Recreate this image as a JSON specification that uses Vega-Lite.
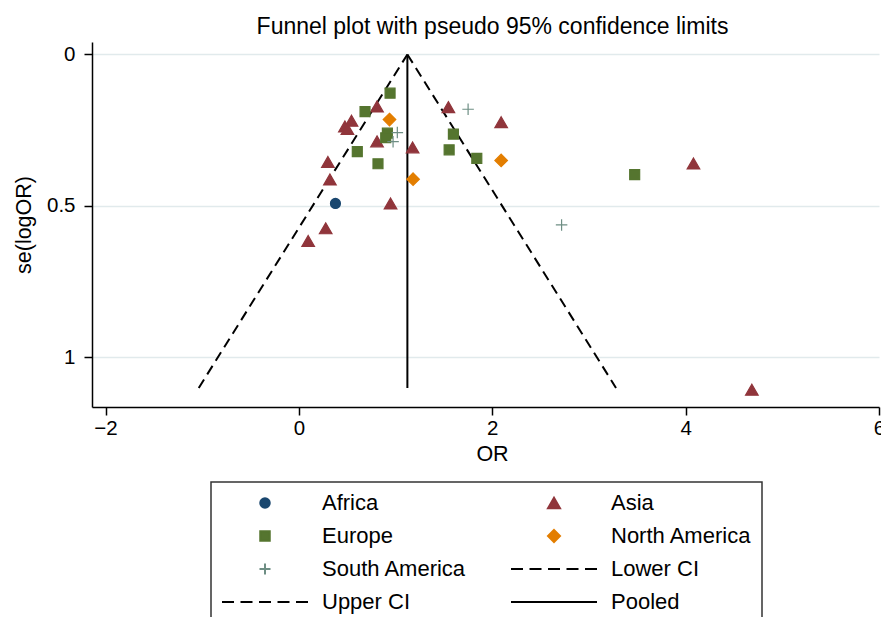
{
  "$schema": "https://vega.github.io/schema/vega-lite/v6.json",
  "width": 787,
  "height": 365,
  "autosize": {"type": "none"},
  "padding": {"left": 92, "top": 42, "right": 2, "bottom": 210},
  "background": "white",
  "title": {
    "text": "Funnel plot with pseudo 95% confidence limits",
    "font": "Liberation Sans",
    "fontSize": 23,
    "fontWeight": "normal",
    "color": "black",
    "anchor": "middle",
    "frame": "group",
    "baseline": "alphabetic",
    "offset": 10,
    "dx": 7,
    "dy": 25
  },
  "config": {
    "view": {"stroke": null},
    "font": "Liberation Sans",
    "legend": {"strokeWidth": 1.5},
    "axis": {
      "labelFont": "Liberation Sans",
      "titleFont": "Liberation Sans",
      "labelColor": "black",
      "titleColor": "black",
      "labelFontSize": 20.5,
      "titleFontSize": 21.5,
      "titleFontWeight": "normal",
      "domainColor": "black",
      "domainWidth": 1.5,
      "tickColor": "black",
      "tickWidth": 1.5,
      "tickSize": 8
    }
  },
  "encoding": {
    "x": {
      "field": "or",
      "type": "quantitative",
      "scale": {"domain": [-2.14, 6], "nice": false, "zero": false},
      "axis": {
        "values": [-2, 0, 2, 4, 6],
        "format": "~g",
        "grid": false,
        "labelFlush": false,
        "labelOverlap": false,
        "labelPadding": 3,
        "title": "OR",
        "titlePadding": 5,
        "titleX": 400
      }
    },
    "y": {
      "field": "se",
      "type": "quantitative",
      "scale": {"domain": [-0.041, 1.164], "nice": false, "zero": false, "reverse": true},
      "axis": {
        "values": [0, 0.5, 1],
        "format": "~g",
        "grid": true,
        "gridColor": "#e1eaec",
        "gridWidth": 1.5,
        "labelPadding": 9,
        "labelOverlap": false,
        "title": "se(logOR)",
        "titlePadding": 11
      }
    }
  },
  "layer": [
    {
      "data": {
        "values": [
          {"series": "Lower CI", "or": 1.122, "se": 0},
          {"series": "Lower CI", "or": -1.036, "se": 1.101},
          {"series": "Upper CI", "or": 1.122, "se": 0},
          {"series": "Upper CI", "or": 3.28, "se": 1.101}
        ]
      },
      "mark": {"type": "line", "color": "black", "strokeWidth": 2, "strokeDash": [10, 6]},
      "encoding": {"detail": {"field": "series"}}
    },
    {
      "data": {
        "values": [
          {"series": "Pooled", "or": 1.122, "se": 0},
          {"series": "Pooled", "or": 1.122, "se": 1.101}
        ]
      },
      "mark": {"type": "line", "color": "black", "strokeWidth": 2},
      "encoding": {"detail": {"field": "series"}}
    },
    {
      "data": {
        "values": [
          {"region": "Africa", "or": 0.378, "se": 0.492},
          {"region": "Asia", "or": 0.808, "se": 0.172},
          {"region": "Asia", "or": 0.544, "se": 0.219},
          {"region": "Asia", "or": 0.476, "se": 0.238},
          {"region": "Asia", "or": 0.502, "se": 0.246},
          {"region": "Asia", "or": 0.808, "se": 0.287},
          {"region": "Asia", "or": 1.176, "se": 0.307},
          {"region": "Asia", "or": 0.300, "se": 0.355},
          {"region": "Asia", "or": 0.321, "se": 0.413},
          {"region": "Asia", "or": 0.948, "se": 0.492},
          {"region": "Asia", "or": 0.277, "se": 0.574},
          {"region": "Asia", "or": 0.096, "se": 0.616},
          {"region": "Asia", "or": 1.546, "se": 0.174},
          {"region": "Asia", "or": 2.092, "se": 0.224},
          {"region": "Asia", "or": 4.081, "se": 0.360},
          {"region": "Asia", "or": 4.685, "se": 1.107},
          {"region": "Europe", "or": 0.943, "se": 0.128},
          {"region": "Europe", "or": 0.684, "se": 0.189},
          {"region": "Europe", "or": 0.915, "se": 0.260},
          {"region": "Europe", "or": 0.898, "se": 0.275},
          {"region": "Europe", "or": 0.604, "se": 0.321},
          {"region": "Europe", "or": 0.818, "se": 0.361},
          {"region": "Europe", "or": 1.598, "se": 0.263},
          {"region": "Europe", "or": 1.554, "se": 0.315},
          {"region": "Europe", "or": 1.840, "se": 0.343},
          {"region": "Europe", "or": 3.473, "se": 0.397},
          {"region": "North America", "or": 0.937, "se": 0.215},
          {"region": "North America", "or": 1.181, "se": 0.412},
          {"region": "North America", "or": 2.092, "se": 0.350},
          {"region": "South America", "or": 1.018, "se": 0.258},
          {"region": "South America", "or": 0.974, "se": 0.288},
          {"region": "South America", "or": 1.750, "se": 0.181},
          {"region": "South America", "or": 2.717, "se": 0.563}
        ]
      },
      "mark": {"type": "point", "filled": true, "opacity": 1, "size": 110, "strokeWidth": 1.2},
      "encoding": {
        "shape": {
          "field": "region",
          "type": "nominal",
          "scale": {
            "domain": ["Africa", "Asia", "Europe", "North America", "South America", "Lower CI", "Upper CI", "Pooled"],
            "range": [
              "M0.95,0A0.95,0.95,0,1,1,-0.95,0A0.95,0.95,0,1,1,0.95,0Z",
              "M0,-1.04L1.2,1.04L-1.2,1.04Z",
              "M-0.95,-0.95H0.95V0.95H-0.95Z",
              "M0,-1.2L1.2,0L0,1.2L-1.2,0Z",
              "M-1.1,0H1.1M0,-1.1V1.1",
              "M-8.6,0H-6.2M-4.9,0H-2.5M-1.2,0H1.2M2.5,0H4.9M6.2,0H8.6",
              "M-8.6,0H-6.2M-4.9,0H-2.5M-1.2,0H1.2M2.5,0H4.9M6.2,0H8.6",
              "M-8.6,0H8.6"
            ]
          },
          "legend": {
            "title": null,
            "orient": "none",
            "legendX": 119,
            "legendY": 440,
            "columns": 2,
            "direction": "horizontal",
            "labelFont": "Liberation Sans",
            "labelFontSize": 22,
            "labelColor": "black",
            "labelLimit": 400,
            "symbolSize": 100,
            "symbolStrokeWidth": 2,
            "symbolOffset": 33,
            "labelOffset": 46,
            "columnPadding": 40,
            "rowPadding": 11,
            "padding": 10,
            "strokeColor": "#333333"
          }
        },
        "fill": {
          "field": "region",
          "type": "nominal",
          "scale": {
            "domain": ["Africa", "Asia", "Europe", "North America", "South America", "Lower CI", "Upper CI", "Pooled"],
            "range": ["#1a476f", "#90353b", "#55752f", "#e37e00", "#6e8e84", "black", "black", "black"]
          }
        },
        "stroke": {
          "field": "region",
          "type": "nominal",
          "scale": {
            "domain": ["Africa", "Asia", "Europe", "North America", "South America", "Lower CI", "Upper CI", "Pooled"],
            "range": ["#1a476f", "#90353b", "#55752f", "#e37e00", "#6e8e84", "black", "black", "black"]
          }
        }
      }
    }
  ]
}
